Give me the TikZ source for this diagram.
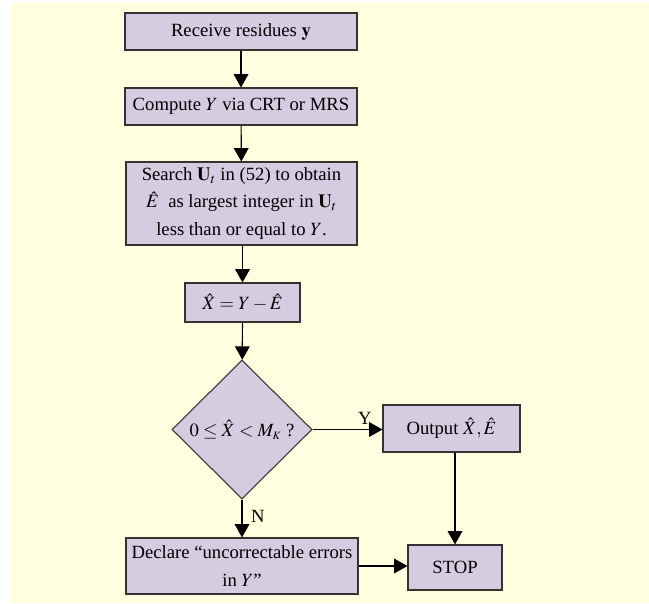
\documentclass[tikz,border=0pt]{standalone}
\usepackage{mathptmx}
\usepackage[no-math]{fontspec}
\setmainfont{Liberation Serif}
\usetikzlibrary{arrows.meta,shapes.geometric,positioning,calc}
\definecolor{bgcol}{RGB}{255,255,224}
\definecolor{boxcol}{RGB}{212,204,224}
\tikzset{
  procbox/.style={draw=black!80,fill=boxcol,line width=0.8pt,inner sep=0pt,
    align=center,font=\fontsize{14}{20.5}\selectfont},
  decbox/.style={procbox,diamond,aspect=1},
  flowarr/.style={-{Triangle[length=10pt,width=11pt]},line width=0.9pt}
}

\begin{document}
\begin{tikzpicture}[x=0.75pt,y=-0.75pt]
  \useasboundingbox (0,0) rectangle (649,603);
  \fill[bgcol] (11,3) rectangle (649,603);
  % process boxes
  \node[procbox,minimum width=174pt,minimum height=27.75pt] (recv) at (241,31.5)
    {Receive residues $\mathbf{y}$};
  \node[procbox,minimum width=174pt,minimum height=27.75pt] (comp) at (241,106.5)
    {Compute $Y$ via CRT or MRS};
  \node[procbox,minimum width=173.25pt,minimum height=62.25pt] (srch) at (241.5,203.5)
    {Search $\mathbf{U}_t$ in (52) to obtain\\
     $\hat{E}$\enspace as largest integer in $\mathbf{U}_t$\\
     less than or equal to $Y$.};
  \node[procbox,minimum width=86.25pt,minimum height=29.25pt] (xhat) at (242.5,302.5)
    {$\hat{X} = Y - \hat{E}$};
  \node[decbox,minimum width=105pt,minimum height=104.25pt] (test) at (242,429.5)
    {$0 \le \hat{X} < M_{\scriptscriptstyle K}$ ?};
  \node[procbox,minimum width=102.75pt,minimum height=35.25pt] (out) at (451.5,428.5)
    {Output $\hat{X}, \hat{E}$};
  \node[procbox,minimum width=174pt,minimum height=42pt] (decl) at (242,566)
    {Declare ``uncorrectable errors\\ in $Y$''};
  \node[procbox,minimum width=70.5pt,minimum height=33.75pt] (stop) at (455,567.5)
    {STOP};
  % connectors
  \draw[flowarr] (recv) -- (comp);
  \draw[flowarr] (comp) -- (srch);
  \draw[flowarr] (srch.south -| xhat.north) -- (xhat);
  \draw[flowarr] (xhat) -- (test);
  \draw[flowarr] (test.east) -- (test.east -| out.west)
    node[pos=0.75,above,font=\fontsize{14}{16}\selectfont] (ylab) {Y};
  \draw[flowarr] (test.south) -- (decl.north)
    node[pos=0.45,right=3pt,font=\fontsize{14}{16}\selectfont] (nlab) {N};
  \draw[flowarr] (stop.north |- out.south) -- (stop.north);
  \draw[flowarr] (decl.east) -- (decl.east -| stop.west);
\end{tikzpicture}
\end{document}
